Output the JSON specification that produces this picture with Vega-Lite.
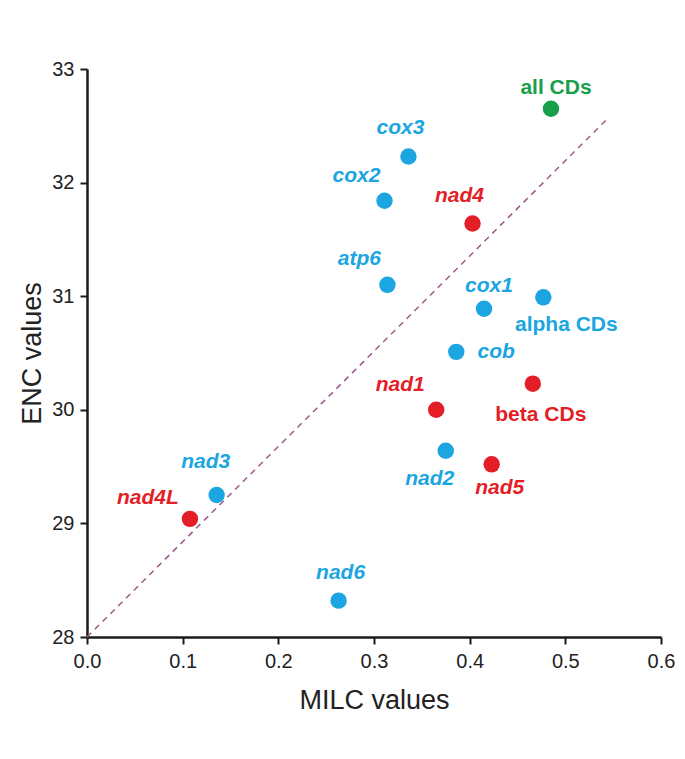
{
  "$schema": "https://vega.github.io/schema/vega-lite/v6.json",
  "width": 574,
  "height": 568,
  "autosize": {"type": "none"},
  "padding": {"left": 87, "top": 69, "right": 24, "bottom": 122},
  "config": {
    "view": {"stroke": null},
    "font": "Liberation Sans",
    "axis": {
      "grid": false,
      "labelFlush": false,
      "domainColor": "#1a1a1a",
      "domainWidth": 2.5,
      "tickColor": "#1a1a1a",
      "tickWidth": 2,
      "tickSize": 7,
      "labelFont": "Liberation Sans",
      "labelFontSize": 20,
      "labelColor": "#222222",
      "titleFont": "Liberation Sans",
      "titleFontSize": 27,
      "titleFontWeight": "normal",
      "titleColor": "#222222"
    }
  },
  "datasets": {
    "points": [
      {"gene": "all CDs", "MILC": 0.485, "ENC": 32.65, "group": "all"},
      {"gene": "cox3", "MILC": 0.336, "ENC": 32.23, "group": "alpha"},
      {"gene": "cox2", "MILC": 0.311, "ENC": 31.84, "group": "alpha"},
      {"gene": "nad4", "MILC": 0.403, "ENC": 31.64, "group": "beta"},
      {"gene": "atp6", "MILC": 0.314, "ENC": 31.10, "group": "alpha"},
      {"gene": "cox1", "MILC": 0.415, "ENC": 30.89, "group": "alpha"},
      {"gene": "alpha CDs", "MILC": 0.477, "ENC": 30.99, "group": "alpha"},
      {"gene": "cob", "MILC": 0.386, "ENC": 30.51, "group": "alpha"},
      {"gene": "beta CDs", "MILC": 0.466, "ENC": 30.23, "group": "beta"},
      {"gene": "nad1", "MILC": 0.365, "ENC": 30.00, "group": "beta"},
      {"gene": "nad2", "MILC": 0.375, "ENC": 29.64, "group": "alpha"},
      {"gene": "nad5", "MILC": 0.423, "ENC": 29.52, "group": "beta"},
      {"gene": "nad3", "MILC": 0.1355, "ENC": 29.25, "group": "alpha"},
      {"gene": "nad4L", "MILC": 0.1076, "ENC": 29.04, "group": "beta"},
      {"gene": "nad6", "MILC": 0.263, "ENC": 28.32, "group": "alpha"}
    ],
    "diag": [
      {"MILC": 0, "ENC": 28},
      {"MILC": 0.545, "ENC": 32.57}
    ]
  },
  "encoding": {
    "x": {"field": "MILC", "type": "quantitative", "scale": {"domain": [0, 0.6], "nice": false}, "axis": {"title": "MILC values", "values": [0, 0.1, 0.2, 0.3, 0.4, 0.5, 0.6], "format": ".1f", "labelPadding": 7, "titlePadding": 16, "labelOverlap": false}},
    "y": {"field": "ENC", "type": "quantitative", "scale": {"domain": [28, 33], "nice": false, "zero": false}, "axis": {"title": "ENC values", "values": [28, 29, 30, 31, 32, 33], "labelPadding": 6, "titlePadding": 5, "labelOverlap": false}}
  },
  "layer": [
    {
      "data": {"name": "diag"},
      "mark": {"type": "line", "color": "#9c5a8c", "strokeDash": [6, 5], "strokeWidth": 1.5}
    },
    {
      "data": {"name": "points"},
      "layer": [
        {
          "mark": {"type": "circle", "size": 270, "opacity": 1},
          "encoding": {
            "color": {"field": "group", "type": "nominal", "scale": {"domain": ["alpha", "beta", "all"], "range": ["#1ba6e1", "#e31e26", "#17a04a"]}, "legend": null}
          }
        },
        {"transform": [{"filter": "datum.gene == 'all CDs'"}], "mark": {"type": "text", "dx": 5, "dy": -21, "fontSize": 21, "fontWeight": "bold"}, "encoding": {"text": {"field": "gene"}, "color": {"value": "#17a04a"}}},
        {"transform": [{"filter": "datum.gene == 'cox3'"}], "mark": {"type": "text", "dx": -8, "dy": -28, "fontSize": 21, "fontWeight": "bold", "fontStyle": "italic"}, "encoding": {"text": {"field": "gene"}, "color": {"value": "#1ba6e1"}}},
        {"transform": [{"filter": "datum.gene == 'cox2'"}], "mark": {"type": "text", "dx": -28, "dy": -25, "fontSize": 21, "fontWeight": "bold", "fontStyle": "italic"}, "encoding": {"text": {"field": "gene"}, "color": {"value": "#1ba6e1"}}},
        {"transform": [{"filter": "datum.gene == 'nad4'"}], "mark": {"type": "text", "dx": -13, "dy": -27, "fontSize": 21, "fontWeight": "bold", "fontStyle": "italic"}, "encoding": {"text": {"field": "gene"}, "color": {"value": "#e31e26"}}},
        {"transform": [{"filter": "datum.gene == 'atp6'"}], "mark": {"type": "text", "dx": -28, "dy": -26, "fontSize": 21, "fontWeight": "bold", "fontStyle": "italic"}, "encoding": {"text": {"field": "gene"}, "color": {"value": "#1ba6e1"}}},
        {"transform": [{"filter": "datum.gene == 'cox1'"}], "mark": {"type": "text", "dx": 5, "dy": -23, "fontSize": 21, "fontWeight": "bold", "fontStyle": "italic"}, "encoding": {"text": {"field": "gene"}, "color": {"value": "#1ba6e1"}}},
        {"transform": [{"filter": "datum.gene == 'alpha CDs'"}], "mark": {"type": "text", "dx": 23, "dy": 28, "fontSize": 21, "fontWeight": "bold"}, "encoding": {"text": {"field": "gene"}, "color": {"value": "#1ba6e1"}}},
        {"transform": [{"filter": "datum.gene == 'cob'"}], "mark": {"type": "text", "dx": 40, "dy": 0, "fontSize": 21, "fontWeight": "bold", "fontStyle": "italic"}, "encoding": {"text": {"field": "gene"}, "color": {"value": "#1ba6e1"}}},
        {"transform": [{"filter": "datum.gene == 'beta CDs'"}], "mark": {"type": "text", "dx": 8, "dy": 31, "fontSize": 21, "fontWeight": "bold"}, "encoding": {"text": {"field": "gene"}, "color": {"value": "#e31e26"}}},
        {"transform": [{"filter": "datum.gene == 'nad1'"}], "mark": {"type": "text", "dx": -36, "dy": -25, "fontSize": 21, "fontWeight": "bold", "fontStyle": "italic"}, "encoding": {"text": {"field": "gene"}, "color": {"value": "#e31e26"}}},
        {"transform": [{"filter": "datum.gene == 'nad2'"}], "mark": {"type": "text", "dx": -16, "dy": 28, "fontSize": 21, "fontWeight": "bold", "fontStyle": "italic"}, "encoding": {"text": {"field": "gene"}, "color": {"value": "#1ba6e1"}}},
        {"transform": [{"filter": "datum.gene == 'nad5'"}], "mark": {"type": "text", "dx": 8, "dy": 24, "fontSize": 21, "fontWeight": "bold", "fontStyle": "italic"}, "encoding": {"text": {"field": "gene"}, "color": {"value": "#e31e26"}}},
        {"transform": [{"filter": "datum.gene == 'nad3'"}], "mark": {"type": "text", "dx": -11, "dy": -33, "fontSize": 21, "fontWeight": "bold", "fontStyle": "italic"}, "encoding": {"text": {"field": "gene"}, "color": {"value": "#1ba6e1"}}},
        {"transform": [{"filter": "datum.gene == 'nad4L'"}], "mark": {"type": "text", "dx": -42, "dy": -21, "fontSize": 21, "fontWeight": "bold", "fontStyle": "italic"}, "encoding": {"text": {"field": "gene"}, "color": {"value": "#e31e26"}}},
        {"transform": [{"filter": "datum.gene == 'nad6'"}], "mark": {"type": "text", "dx": 2, "dy": -28, "fontSize": 21, "fontWeight": "bold", "fontStyle": "italic"}, "encoding": {"text": {"field": "gene"}, "color": {"value": "#1ba6e1"}}}
      ]
    }
  ]
}
